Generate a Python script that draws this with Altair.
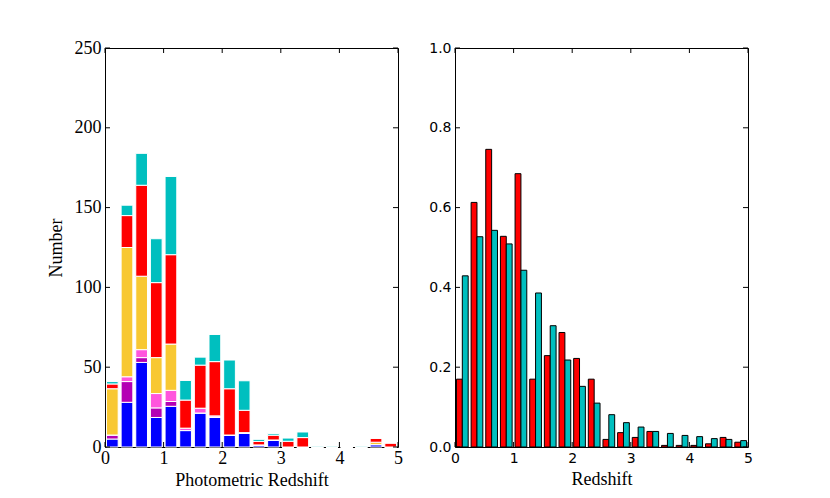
import altair as alt
import pandas as pd

# ---------------- data ----------------
bin_lo = [0.0, 0.25, 0.5, 0.75, 1.0, 1.25, 1.5, 1.75, 2.0, 2.25,
          2.5, 2.75, 3.0, 3.25, 3.5, 3.75, 4.0, 4.25, 4.5, 4.75]

# left panel: stacked photometric-redshift counts (bottom -> top)
seg_names = ["blue", "purple", "pink", "yellow", "red", "cyan"]
seg_colors = ["#0000ff", "#b400b4", "#ff55dd", "#f8c832", "#ff0000", "#00bfbf"]
blue   = [5, 28, 53, 18.5, 25.5, 10.3, 21.3, 18.5, 7.5, 8.5, 1.3, 4.4, 0, 0, 0, 0, 0, 0, 1.5, 0]
purple = [2.5, 13, 3, 6, 3, 0, 0, 0, 0, 0, 0, 0, 0, 0, 0, 0, 0, 0, 0, 0]
pink   = [0, 3, 5, 9, 7, 1.5, 3, 1, 0, 0.5, 0, 0, 0, 0, 0, 0, 0, 0, 0, 0]
yellow = [29, 81, 46, 22.5, 29, 0, 0, 0, 0, 0, 0, 0, 0, 0, 0, 0, 0, 0, 1.5, 0]
red    = [3, 20, 57, 47, 56, 17.6, 27, 34, 29, 14, 2.2, 3, 3.6, 5.9, 0, 0, 0, 0, 2.5, 2.5]
cyan   = [1.5, 6.5, 20, 27.5, 49, 12.3, 5, 17, 18, 18.5, 1.3, 1, 2, 3.5, 0.5, 0.5, 0, 0.5, 0, 0]
segs = [blue, purple, pink, yellow, red, cyan]

# right panel: normalised redshift distributions
red_frac  = [0.170, 0.613, 0.746, 0.528, 0.685, 0.170, 0.229, 0.287, 0.222, 0.170,
             0.019, 0.036, 0.024, 0.039, 0.004, 0.004, 0.004, 0.008, 0.024, 0.012]
cyan_frac = [0.429, 0.527, 0.543, 0.509, 0.443, 0.386, 0.304, 0.218, 0.152, 0.110,
             0.081, 0.061, 0.050, 0.039, 0.034, 0.029, 0.026, 0.021, 0.019, 0.016]

x_ticks = [0, 1, 2, 3, 4, 5]
left_y_ticks = [0, 50, 100, 150, 200, 250]
right_y_ticks = [0.0, 0.2, 0.4, 0.6, 0.8, 1.0]

# ---------------- tables ----------------
left_rows = []
for i, lo in enumerate(bin_lo):
    for k, (nm, arr) in enumerate(zip(seg_names, segs)):
        left_rows.append({"lo": lo, "bin": i, "k": k, "name": nm, "v": arr[i]})
left_df = pd.DataFrame(left_rows)

right_rows = []
for i, lo in enumerate(bin_lo):
    right_rows.append({"lo": lo, "s": 0, "name": "red", "v": red_frac[i]})
    right_rows.append({"lo": lo, "s": 1, "name": "cyan", "v": cyan_frac[i]})
right_df = pd.DataFrame(right_rows)

W, H = 293, 399
TL = 5
SERIF = "Liberation Serif"
SANS = "DejaVu Sans"
FS = 18


def tick_layers(xs, ys, xscale, yscale, xaxis, yaxis):
    xt = pd.DataFrame({"t": xs})
    yt = pd.DataFrame({"t": ys})
    xenc = alt.X("t:Q", scale=xscale, axis=xaxis)
    yenc = alt.Y("t:Q", scale=yscale, axis=yaxis)
    base_x = alt.Chart(xt).mark_rule(color="black", strokeWidth=1)
    base_y = alt.Chart(yt).mark_rule(color="black", strokeWidth=1)
    return [
        base_x.encode(x=xenc, y=alt.value(H), y2=alt.value(H - TL)),
        base_x.encode(x=xenc, y=alt.value(0), y2=alt.value(TL)),
        base_y.encode(y=yenc, x=alt.value(0), x2=alt.value(TL)),
        base_y.encode(y=yenc, x=alt.value(W), x2=alt.value(W - TL)),
    ]


# ---------------- left panel ----------------
lx = alt.Scale(domain=[0, 5], nice=False, zero=False)
ly = alt.Scale(domain=[0, 250], nice=False)
lxa = alt.Axis(values=x_ticks, format="d", title="Photometric Redshift",
               labelFont=SERIF, labelFontSize=FS, titleFont=SERIF, titleFontSize=FS,
               titleFontWeight="normal", labelPadding=2, titlePadding=4)
lya = alt.Axis(values=left_y_ticks, format="d", title="Number",
               labelFont=SERIF, labelFontSize=FS, titleFont=SERIF, titleFontSize=FS,
               titleFontWeight="normal", labelPadding=4, titlePadding=9)

left_bars = alt.Chart(left_df).transform_calculate(
    x0="datum.lo + 0.025", x1="datum.lo + 0.225"
).transform_stack(
    stack="v", groupby=["bin"], sort=[alt.SortField("k", order="ascending")], as_=["y0", "y1"]
).mark_bar(stroke="white", strokeWidth=1).encode(
    x=alt.X("x0:Q", scale=lx, axis=lxa),
    x2="x1:Q",
    y=alt.Y("y0:Q", scale=ly, axis=lya),
    y2="y1:Q",
    color=alt.Color("name:N", scale=alt.Scale(domain=seg_names, range=seg_colors), legend=None),
)

left = alt.layer(left_bars, *tick_layers(x_ticks, left_y_ticks, lx, ly, lxa, lya)).properties(width=W, height=H)

# ---------------- right panel ----------------
rx = alt.Scale(domain=[0, 5], nice=False, zero=False)
ry = alt.Scale(domain=[0, 1], nice=False)
rxa = alt.Axis(values=x_ticks, format="d", title="Redshift",
               labelFont=SANS, labelFontSize=14, titleFont=SERIF, titleFontSize=FS,
               titleFontWeight="normal", labelPadding=4, titlePadding=5)
rya = alt.Axis(values=right_y_ticks, format=".1f", title=None,
               labelFont=SANS, labelFontSize=14, labelPadding=4)

right_bars = alt.Chart(right_df).transform_calculate(
    x0="datum.lo + 0.025 + 0.1 * datum.s", x1="datum.lo + 0.125 + 0.1 * datum.s", base="0"
).mark_bar(stroke="black", strokeWidth=1).encode(
    x=alt.X("x0:Q", scale=rx, axis=rxa),
    x2="x1:Q",
    y=alt.Y("v:Q", scale=ry, axis=rya),
    y2="base:Q",
    color=alt.Color("name:N", scale=alt.Scale(domain=["red", "cyan"], range=["#ff0000", "#00bfbf"]), legend=None),
)

right = alt.layer(right_bars, *tick_layers(x_ticks, right_y_ticks, rx, ry, rxa, rya)).properties(width=W, height=H)

chart = alt.hconcat(left, right, spacing=57, bounds="flush").properties(
    padding={"left": 38, "top": 30, "right": 5, "bottom": 5}
).configure_view(
    stroke="black", strokeWidth=1
).configure_axis(
    ticks=False, domain=False, grid=False, labelColor="black", titleColor="black",
    labelFlush=False, labelOverlap=False
).configure_axisY(
    labelBaseline="middle"
)

chart.save("out.html", embed_options={"renderer": "svg", "actions": False})
